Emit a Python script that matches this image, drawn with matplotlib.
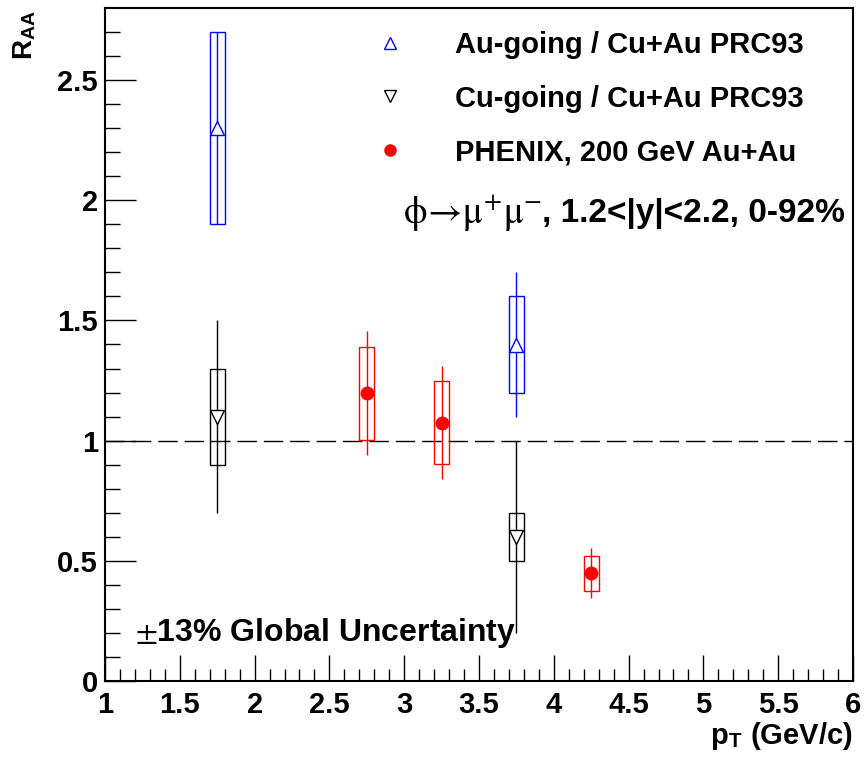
import matplotlib
matplotlib.use("Agg")
import matplotlib.pyplot as plt
from matplotlib.lines import Line2D
import numpy as np

plt.rcParams['font.family'] = ['Liberation Sans', 'DejaVu Sans']
plt.rcParams['mathtext.fontset'] = 'stix'

# Au-going / Cu+Au
au_x = [1.75, 3.75]
au_y = [2.3, 1.4]
au_stat_lo = [1.9, 1.1]
au_stat_hi = [2.7, 1.7]
au_sys_lo = [1.9, 1.2]
au_sys_hi = [2.7, 1.6]

# Cu-going / Cu+Au
cu_x = [1.75, 3.75]
cu_y = [1.1, 0.6]
cu_stat_lo = [0.7, 0.2]
cu_stat_hi = [1.5, 1.0]
cu_sys_lo = [0.9, 0.5]
cu_sys_hi = [1.3, 0.7]

# PHENIX 200 GeV Au+Au
ph_x = [2.75, 3.25, 4.25]
ph_y = [1.2, 1.075, 0.45]
ph_stat_lo = [0.94, 0.84, 0.345]
ph_stat_hi = [1.455, 1.31, 0.552]
ph_sys_lo = [1.003, 0.903, 0.375]
ph_sys_hi = [1.388, 1.25, 0.52]

box_w = 0.1

fig = plt.figure(figsize=(8.65, 7.6), dpi=100)
ax = fig.add_axes([105/865, 1-681/760, (853-105)/865, (681-8)/760])
ax.set_xlim(1, 6)
ax.set_ylim(0, 2.8)

ax.axhline(1.0, color='black', lw=1.0, dashes=(14, 5), zorder=1)

def draw(x, y, slo, shi, blo, bhi, color, marker, filled):
    x = np.array(x); y = np.array(y)
    slo = np.array(slo); shi = np.array(shi)
    blo = np.array(blo); bhi = np.array(bhi)
    ax.bar(x, bhi - blo, bottom=blo, width=box_w, fill=False,
           edgecolor=color, linewidth=1.0, zorder=2)
    ax.errorbar(x, y, yerr=[y - slo, shi - y], fmt='none', ecolor=color,
                elinewidth=1.0, capsize=0, zorder=3)
    if filled:
        ax.plot(x, y, linestyle='none', marker=marker, ms=9, color=color,
                mec=color, zorder=4)
    else:
        ax.plot(x, y, linestyle='none', marker=marker, ms=10, mfc='white',
                mec=color, mew=1.0, zorder=4)

draw(au_x, au_y, au_stat_lo, au_stat_hi, au_sys_lo, au_sys_hi, 'blue', '^', False)
draw(cu_x, cu_y, cu_stat_lo, cu_stat_hi, cu_sys_lo, cu_sys_hi, 'black', 'v', False)
draw(ph_x, ph_y, ph_stat_lo, ph_stat_hi, ph_sys_lo, ph_sys_hi, 'red', 'o', True)

# ticks
ax.set_xticks(np.arange(1, 6.01, 0.5))
ax.set_xticklabels(['1', '1.5', '2', '2.5', '3', '3.5', '4', '4.5', '5', '5.5', '6'])
ax.set_xticks(np.arange(1, 6.001, 0.1), minor=True)
ax.set_yticks([0, 0.5, 1, 1.5, 2, 2.5])
ax.set_yticklabels(['0', '0.5', '1', '1.5', '2', '2.5'])
ax.set_yticks(np.arange(0, 2.79, 0.1), minor=True)
ax.tick_params(axis='both', which='major', direction='in', length=22, width=1.0,
               labelsize=21, top=False, right=False)
ax.tick_params(axis='both', which='minor', direction='in', length=11, width=1.0,
               top=False, right=False)
ax.tick_params(axis='y', which='major', pad=5)
ax.tick_params(axis='x', which='major', length=19, pad=7)
ax.tick_params(axis='x', which='minor', length=9)
for lab in ax.get_xticklabels() + ax.get_yticklabels():
    lab.set_fontweight('bold')
for s in ax.spines.values():
    s.set_linewidth(1.5)

ax.set_xlabel(r'p$_{\mathregular{T}}$ (GeV/c)', fontsize=21, fontweight='bold')
ax.xaxis.set_label_coords(1.0, -0.093)
ax.xaxis.label.set_horizontalalignment('right')
ax.xaxis.label.set_verticalalignment('baseline')
fig.text(25/865, 1-10/760, r'R$_{\mathregular{AA}}$', rotation=90, fontsize=20,
         fontweight='bold', ha='center', va='top')

# legend
handles = [
    Line2D([], [], linestyle='none', marker='^', ms=8, mfc='white', mec='blue'),
    Line2D([], [], linestyle='none', marker='v', ms=8, mfc='white', mec='black'),
    Line2D([], [], linestyle='none', marker='o', ms=8, color='red'),
]
labels = ['Au-going / Cu+Au PRC93', 'Cu-going / Cu+Au PRC93', 'PHENIX, 200 GeV Au+Au']
leg = ax.legend(handles, labels, loc='upper left', bbox_to_anchor=(0.327, 1.005),
                frameon=False, handlelength=1.0, handletextpad=1.73,
                labelspacing=0.88, prop={'weight': 'bold', 'size': 21})

t_bold = ax.text(0.989, 0.695, ', 1.2<|y|<2.2, 0-92%',
                 transform=ax.transAxes, fontsize=24, fontweight='bold',
                 ha='right', va='center')
ax.annotate(r'$\mathrm{\phi\!\rightarrow\!\mu^{+}\mu^{-}}$', xy=(0, 0.5),
            xycoords=t_bold, fontsize=27, ha='right', va='center')

ax.text(0.04, 0.071, r'$\pm$13% Global Uncertainty', transform=ax.transAxes,
        fontsize=23, fontweight='bold', ha='left', va='center')

fig.savefig('out.png', dpi=100)
